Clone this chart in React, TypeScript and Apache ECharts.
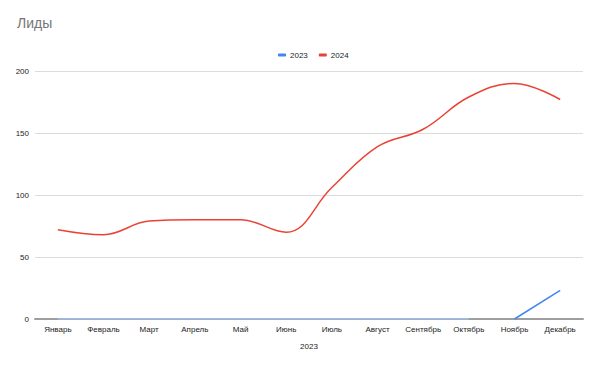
import React, { useEffect, useRef } from "react";
import * as echarts from "echarts";

const months = ["Январь", "Февраль", "Март", "Апрель", "Май", "Июнь", "Июль", "Август", "Сентябрь", "Октябрь", "Ноябрь", "Декабрь"];
const leads2023a: (number | null)[] = [0, 0, 0, 0, 0, 0, 0, 0, 0, 0, null, null];
const leads2023b: (number | null)[] = [null, null, null, null, null, null, null, null, null, null, 0, 23];
const leads2024: number[] = [72, 68, 79, 80, 80, 70, 106, 139, 153, 179, 190, 177];
const yTicks = [0, 50, 100, 150, 200];

const BLUE = "#4285F4";
const BLUE_LIGHT = "#a3c2f7";
const RED = "#EA4335";
const FONT = "Arial, 'Liberation Sans', sans-serif";

export default function App() {
  const ref = useRef<HTMLDivElement>(null);
  useEffect(() => {
    if (!ref.current) return;
    const chart = echarts.init(ref.current, null, { renderer: "svg" });
    chart.setOption({
      animation: false,
      backgroundColor: "#ffffff",
      textStyle: { fontFamily: FONT },
      title: {
        text: "Лиды",
        left: 12,
        top: 11,
        textStyle: { fontSize: 14, fontWeight: "normal", color: "#757575", fontFamily: FONT },
      },
      legend: {
        data: [
          { name: "2023", itemStyle: { color: BLUE } },
          { name: "2024", itemStyle: { color: RED } },
        ],
        top: 46,
        left: 273,
        itemWidth: 8,
        itemHeight: 3,
        itemGap: 11,
        icon: "roundRect",
        textStyle: { fontSize: 8, color: "#222222", padding: [0, 0, 0, -1] },
      },
      grid: { left: 35, right: 19, top: 71, bottom: 49, containLabel: false },
      xAxis: {
        type: "category",
        data: months,
        boundaryGap: true,
        name: "2023",
        nameLocation: "middle",
        nameGap: 23,
        nameTextStyle: { fontSize: 8, color: "#222222" },
        axisLine: { show: true, lineStyle: { color: "#9e9e9e", width: 2 } },
        axisTick: { show: false },
        axisLabel: { fontSize: 8, color: "#222222", margin: 6, interval: 0 },
      },
      yAxis: {
        type: "value",
        min: yTicks[0],
        max: yTicks[yTicks.length - 1],
        interval: 50,
        axisLine: { show: false },
        axisTick: { show: false },
        axisLabel: { fontSize: 8, color: "#222222", margin: 6 },
        splitLine: { lineStyle: { color: "#dcdcdc", width: 1 } },
      },
      series: [
        {
          name: "2023",
          type: "line",
          data: leads2023a,
          smooth: 0.4,
          symbol: "none",
          lineStyle: { color: BLUE_LIGHT, width: 1.5 },
          itemStyle: { color: BLUE },
          z: 3,
        },
        {
          name: "2023",
          type: "line",
          data: leads2023b,
          smooth: 0.4,
          symbol: "none",
          lineStyle: { color: BLUE, width: 1.5 },
          itemStyle: { color: BLUE },
          z: 3,
        },
        {
          name: "2024",
          type: "line",
          data: leads2024,
          smooth: 0.4,
          symbol: "none",
          lineStyle: { color: RED, width: 1.5 },
          itemStyle: { color: RED },
          z: 4,
        },
      ],
    });
    return () => chart.dispose();
  }, []);
  return <div ref={ref} style={{ position: "fixed", left: 0, top: 0, width: 602, height: 368 }} />;
}
